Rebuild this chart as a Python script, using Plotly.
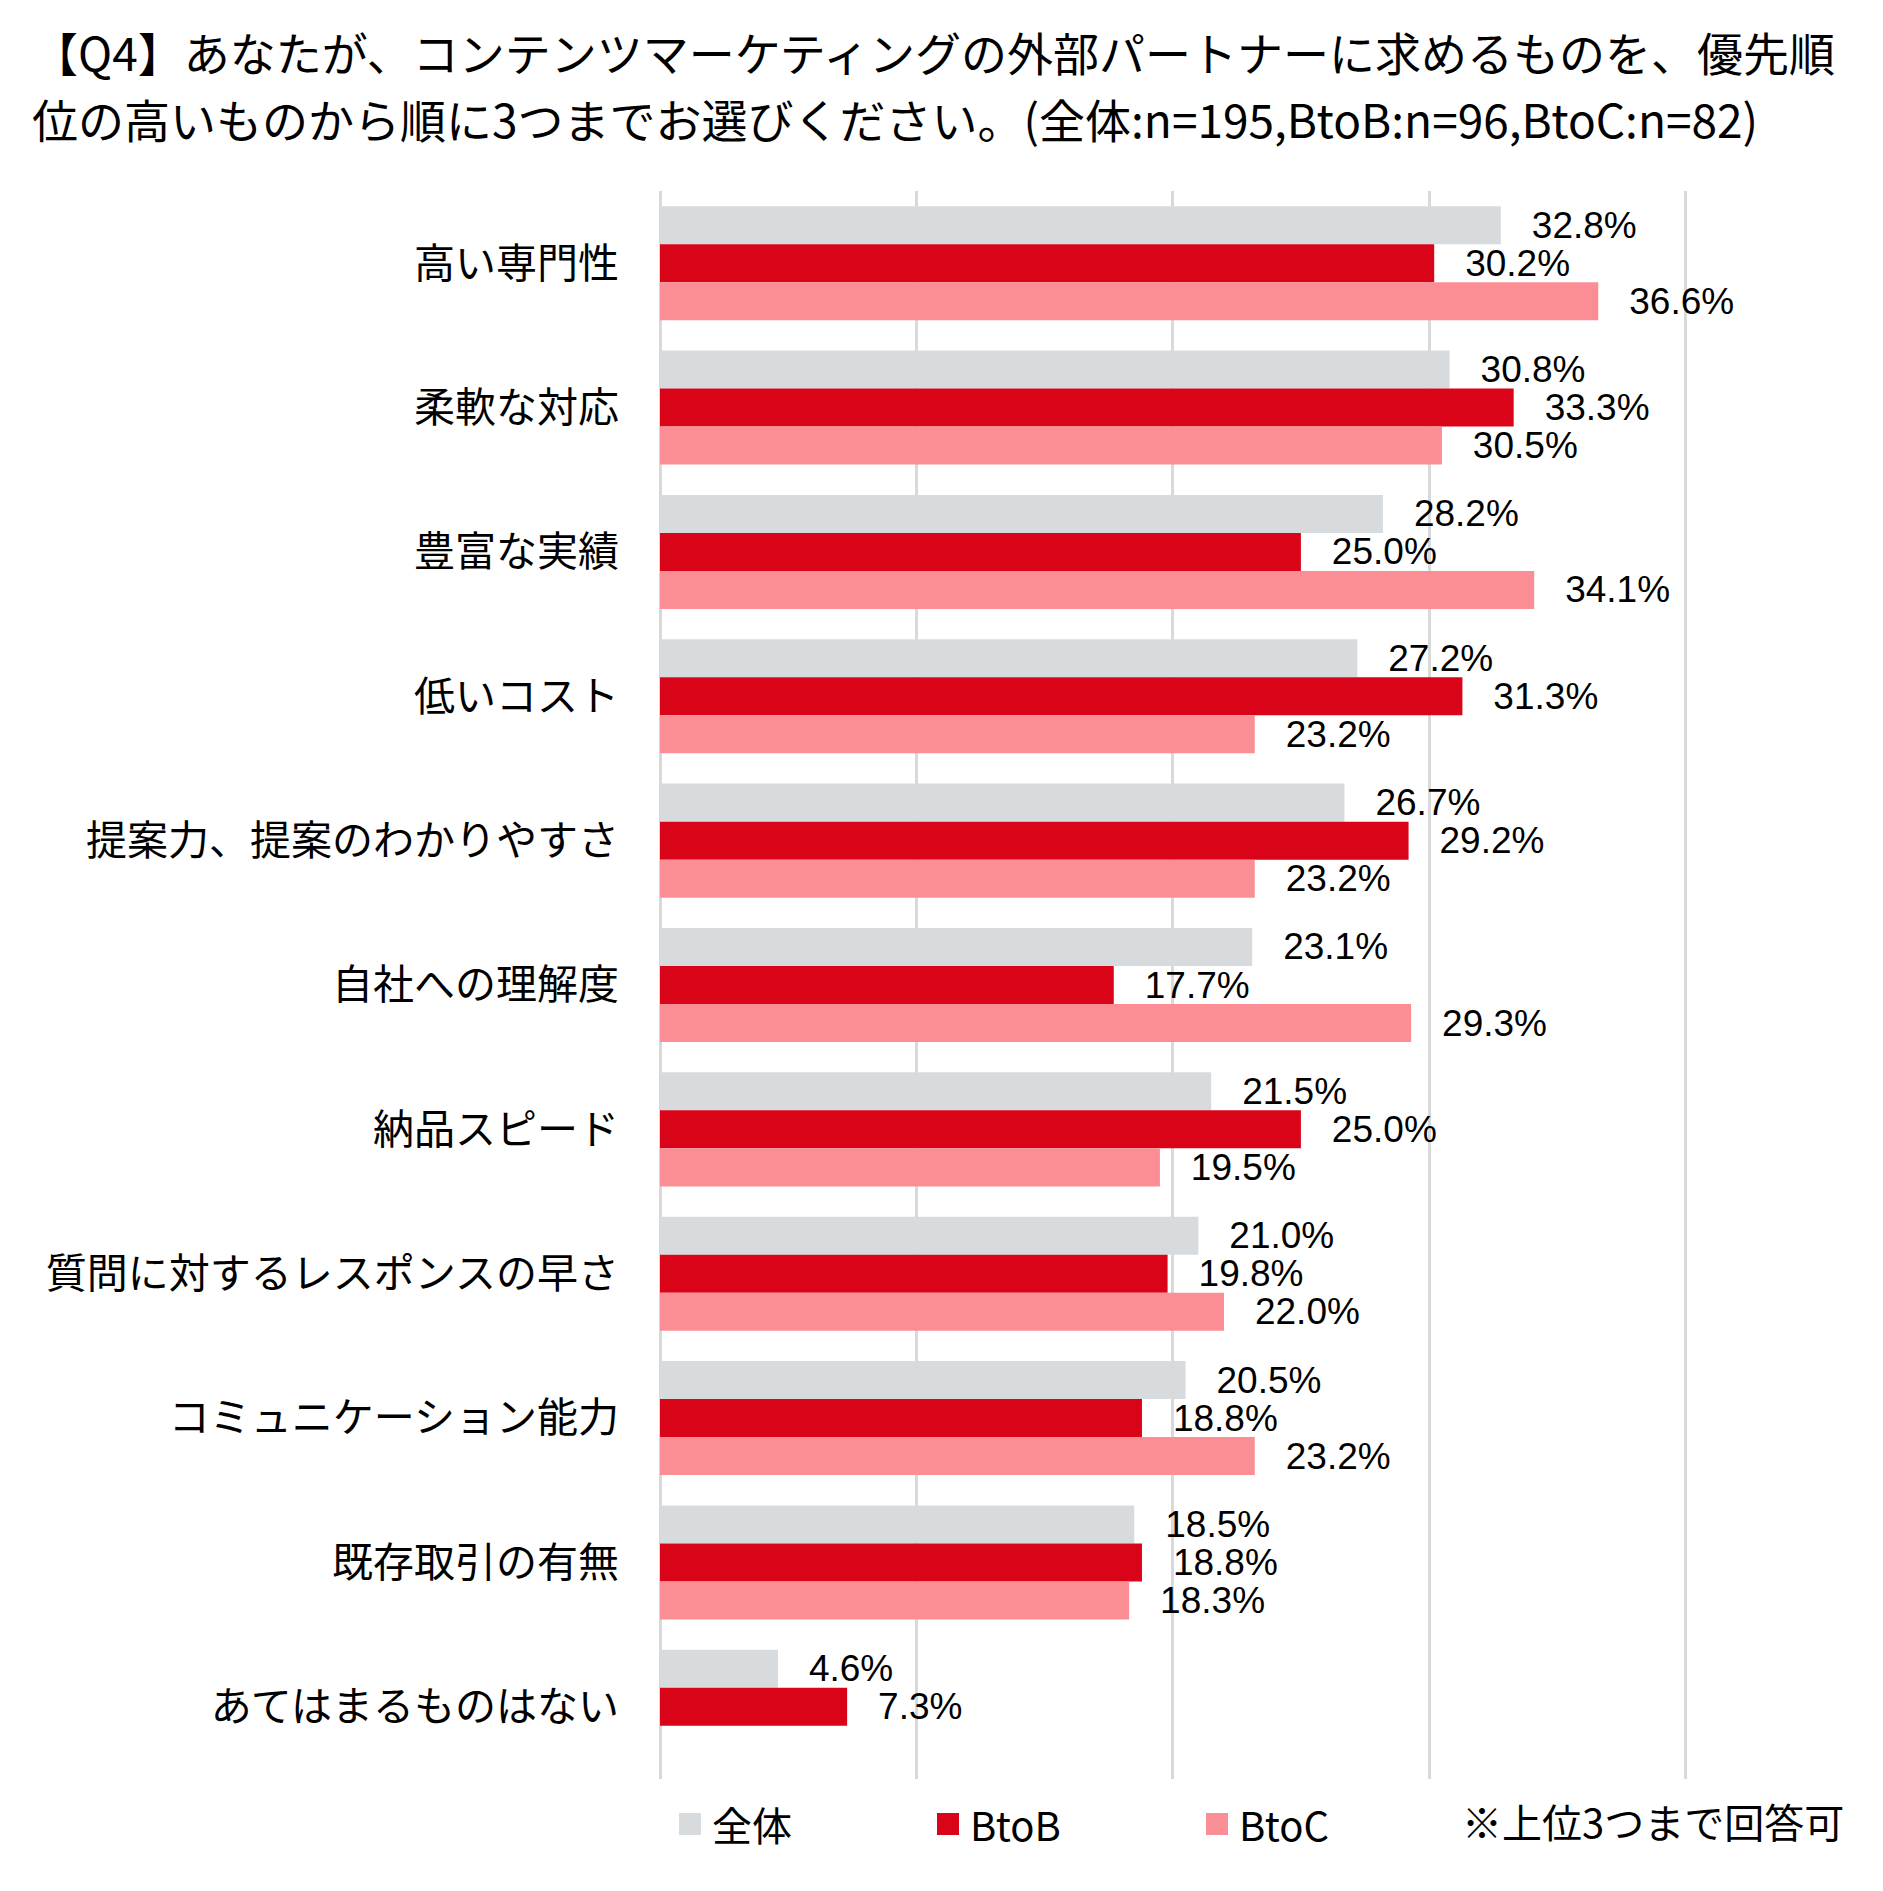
import plotly.graph_objects as go

# Survey data (percent)
categories = [
    "高い専門性",
    "柔軟な対応",
    "豊富な実績",
    "低いコスト",
    "提案力、提案のわかりやすさ",
    "自社への理解度",
    "納品スピード",
    "質問に対するレスポンスの早さ",
    "コミュニケーション能力",
    "既存取引の有無",
    "あてはまるものはない",
]
zentai = [32.8, 30.8, 28.2, 27.2, 26.7, 23.1, 21.5, 21.0, 20.5, 18.5, 4.6]
btob = [30.2, 33.3, 25.0, 31.3, 29.2, 17.7, 25.0, 19.8, 18.8, 18.8, 7.3]
btoc = [36.6, 30.5, 34.1, 23.2, 23.2, 29.3, 19.5, 22.0, 23.2, 18.3, None]

series_names = ["全体", "BtoB", "BtoC"]
series_colors = ["#D8DBDE", "#D90418", "#FB8D94"]
series_values = [zentai, btob, btoc]

title_lines = [
    "【Q4】あなたが、コンテンツマーケティングの外部パートナーに求めるものを、優先順",
    "位の高いものから順に3つまでお選びください。(全体:n=195,BtoB:n=96,BtoC:n=82)",
]
note_text = "※上位3つまで回答可"

JP_FONT = "Noto Sans CJK JP"
NUM_FONT = "Liberation Sans, Arial, sans-serif"

# Page has an 8px body margin, so the figure is shrunk by that much
OFF = 8
W, H = 1883 - OFF, 1891 - OFF
# plot area in screen pixels: x 660..1688 (40% line at ~1685), y 191..1779
ML, MR, MT, MB = 660 - OFF, 1883 - 1688, 191 - OFF, 1891 - 1779
PW = W - ML - MR
PH = H - MT - MB


def px_x(px):
    """Screen pixel x -> paper x"""
    return (px - OFF - ML) / PW


def px_y(py):
    """Screen pixel y (from top) -> paper y"""
    return (H - MB - (py - OFF)) / PH


fig = go.Figure()

for name, color, vals in zip(series_names, series_colors, series_values):
    fig.add_trace(
        go.Bar(
            y=categories,
            x=vals,
            name=name,
            orientation="h",
            marker=dict(color=color, line=dict(width=0)),
            texttemplate="  \u2009%{x:.1f}%",
            textposition="outside",
            textfont=dict(family=NUM_FONT, size=37, color="black"),
            constraintext="none",
            cliponaxis=False,
            showlegend=False,
            hoverinfo="skip",
        )
    )

# Title, one annotation per line to match the line spacing
for line, cy in zip(title_lines, [51, 118]):
    fig.add_annotation(
        x=px_x(30),
        y=px_y(cy),
        xref="paper",
        yref="paper",
        xanchor="left",
        yanchor="middle",
        text=line,
        showarrow=False,
        font=dict(family=JP_FONT, size=46, color="black"),
    )

# Manual legend (larger squares than plotly's built-in bar symbols)
legend_x = [679, 937, 1206]
legend_y = 1824
for name, color, lx in zip(series_names, series_colors, legend_x):
    fig.add_shape(
        type="rect",
        xref="paper",
        yref="paper",
        xsizemode="pixel",
        ysizemode="pixel",
        xanchor=px_x(lx),
        yanchor=px_y(legend_y),
        x0=0,
        x1=22,
        y0=-11,
        y1=11,
        fillcolor=color,
        line=dict(width=0),
    )
    fig.add_annotation(
        x=px_x(lx + 31),
        y=px_y(legend_y),
        xref="paper",
        yref="paper",
        xanchor="left",
        yanchor="middle",
        text=name,
        showarrow=False,
        font=dict(family=JP_FONT, size=40, color="black"),
    )

fig.add_annotation(
    x=px_x(1846),
    y=px_y(1821),
    xref="paper",
    yref="paper",
    xanchor="right",
    yanchor="middle",
    text=note_text,
    showarrow=False,
    font=dict(family=JP_FONT, size=40, color="black"),
)

fig.update_layout(
    width=W,
    height=H,
    margin=dict(l=ML, r=MR, t=MT, b=MB, autoexpand=False),
    paper_bgcolor="white",
    plot_bgcolor="white",
    barmode="group",
    bargap=0.21,
    bargroupgap=0,
    font=dict(family=JP_FONT, color="black"),
)

# pad on the max so plotly keeps the 40% gridline (edge gridlines are clipped)
fig.update_xaxes(
    range=[0, 40.1],
    tick0=0,
    dtick=10,
    showgrid=True,
    gridcolor="#D9D9D9",
    gridwidth=2.5,
    zeroline=True,
    zerolinecolor="#D9D9D9",
    zerolinewidth=2.5,
    showticklabels=False,
    showline=False,
)

fig.update_yaxes(
    autorange="reversed",
    showgrid=False,
    showline=False,
    ticks="",
    ticklabelstandoff=40,
    tickfont=dict(family=JP_FONT, size=41, color="black"),
)

fig.write_html("out.html")
